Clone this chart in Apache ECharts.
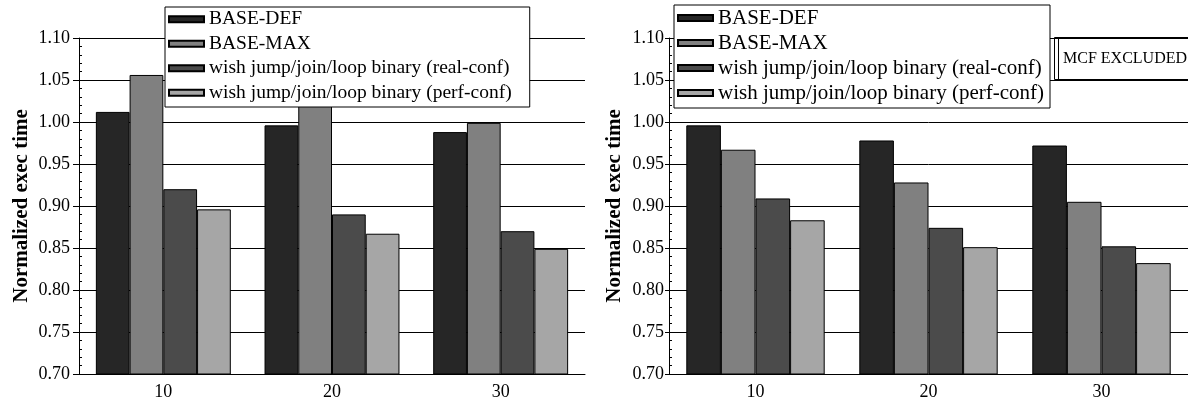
<!DOCTYPE html>
<html>
<head>
<meta charset="utf-8">
<script src="https://cdn.jsdelivr.net/npm/echarts@6/dist/echarts.min.js"></script>
<style>
  html, body { margin: 0; padding: 0; background: #fff; }
  #chart { width: 1188px; height: 402px; }
</style>
</head>
<body>
<div id="chart"></div>
<script>
// Category (x) labels
const categories = ['10', '20', '30'];
const seriesNames = [
  'BASE-DEF',
  'BASE-MAX',
  'wish jump/join/loop binary (real-conf)',
  'wish jump/join/loop binary (perf-conf)'
];

// Left panel: all benchmarks
const allBaseDef  = [1.012, 0.996, 0.988];
const allBaseMax  = [1.056, 1.021, 0.999];
const allWishReal = [0.920, 0.890, 0.870];
const allWishPerf = [0.896, 0.867, 0.849];

// Right panel: mcf excluded
const exclBaseDef  = [0.996, 0.978, 0.972];
const exclBaseMax  = [0.967, 0.928, 0.905];
const exclWishReal = [0.909, 0.874, 0.852];
const exclWishPerf = [0.883, 0.851, 0.832];

// Value axis range
const yMin = 0.70, yMax = 1.10, yStep = 0.05;
const yTitle = 'Normalized exec time';
const excludedNote = 'MCF EXCLUDED';

const FONT = 'Liberation Serif, Times New Roman, serif';
const barColors = ['#262626', '#808080', '#4b4b4b', '#a6a6a6'];

function barSeries(values, idx, panel) {
  return {
    type: 'bar',
    name: seriesNames[idx],
    data: values,
    xAxisIndex: panel,
    yAxisIndex: panel * 2,
    barGap: '0%',
    barCategoryGap: '20%',
    itemStyle: { color: barColors[idx], borderColor: '#000', borderWidth: 1 },
    emphasis: { disabled: true },
    z: 3
  };
}

function xAxisFor(panel) {
  return {
    type: 'category',
    gridIndex: panel,
    data: categories,
    axisLine: { lineStyle: { color: '#000', width: 1 } },
    axisTick: { alignWithLabel: true, length: 5, lineStyle: { color: '#000' } },
    axisLabel: { color: '#000', fontFamily: FONT, fontSize: 18, margin: 9 }
  };
}

function yAxesFor(panel, nameGap, labelMargin, tickLen) {
  return [
    {
      type: 'value',
      gridIndex: panel,
      position: 'left',
      min: yMin, max: yMax, interval: yStep,
      name: yTitle,
      nameLocation: 'middle',
      nameRotate: 90,
      nameGap: nameGap,
      nameTextStyle: { color: '#000', fontFamily: FONT, fontSize: 21, fontWeight: 'bold' },
      axisLine: { show: true, lineStyle: { color: '#000', width: 1 } },
      axisTick: { show: true, length: tickLen, lineStyle: { color: '#000' } },
      axisLabel: {
        color: '#000', fontFamily: FONT, fontSize: 18, margin: labelMargin,
        formatter: v => v.toFixed(2)
      },
      splitLine: { show: true, lineStyle: { color: '#000', width: 1 } }
    },
    {
      // companion axis that only carries the inward minor ticks
      type: 'value',
      gridIndex: panel,
      position: 'left',
      min: yMin, max: yMax, interval: yStep,
      axisLine: { show: false },
      axisTick: { show: false, inside: true },
      axisLabel: { show: false },
      splitLine: { show: false },
      minorTick: { show: true, splitNumber: 5, length: 3, lineStyle: { color: '#000' } }
    }
  ];
}

function legendFor(panel, left, top, fontSize, padding, gap) {
  return {
    orient: 'vertical',
    left: left,
    top: top,
    icon: 'rect',
    itemWidth: 35,
    itemHeight: 6,
    itemGap: gap,
    padding: padding,
    backgroundColor: '#fff',
    borderColor: '#000',
    borderWidth: 1,
    borderRadius: 0,
    selectedMode: false,
    data: seriesNames,
    textStyle: { color: '#000', fontFamily: FONT, fontSize: fontSize, lineHeight: fontSize + 1 },
    z: 10
  };
}

const chart = echarts.init(document.getElementById('chart'), null, { renderer: 'canvas' });

chart.setOption({
  animation: false,
  backgroundColor: '#fff',
  grid: [
    { left: 79, right: 603, top: 38, bottom: 28 },
    { left: 669, right: 0, top: 38, bottom: 28 }
  ],
  xAxis: [xAxisFor(0), xAxisFor(1)],
  yAxis: [].concat(yAxesFor(0, 47, 9, 6), yAxesFor(1, 44, 5, 4)),
  legend: [
    legendFor(0, 165, 7, 19.5, [2, 18, 4, 3], 4),
    legendFor(1, 674, 5, 21, [2, 6, 4, 3], 3)
  ],
  series: [
    barSeries(allBaseDef, 0, 0),
    barSeries(allBaseMax, 1, 0),
    barSeries(allWishReal, 2, 0),
    barSeries(allWishPerf, 3, 0),
    barSeries(exclBaseDef, 0, 1),
    barSeries(exclBaseMax, 1, 1),
    barSeries(exclWishReal, 2, 1),
    barSeries(exclWishPerf, 3, 1)
  ],
  graphic: [
    {
      type: 'group',
      z: 100,
      children: [
        { type: 'rect', shape: { x: 1054.5, y: 37.5, width: 160, height: 42 },
          style: { fill: '#fff', stroke: '#000', lineWidth: 1 } },
        { type: 'line', shape: { x1: 1058.5, y1: 37.5, x2: 1058.5, y2: 79.5 },
          style: { stroke: '#000', lineWidth: 1 } },
        { type: 'text', x: 1063, y: 58.5,
          style: { text: excludedNote, fill: '#000', font: '16px ' + FONT, verticalAlign: 'middle' } }
      ]
    }
  ]
});
</script>
</body>
</html>
